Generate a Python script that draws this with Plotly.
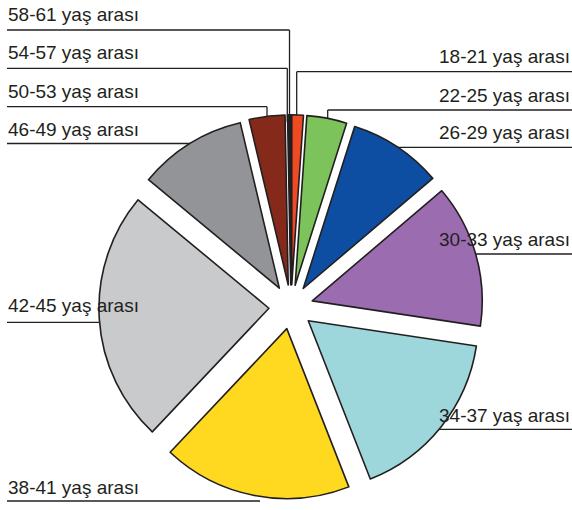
import plotly.graph_objects as go

# ---- data ----
labels = ["18-21 yaş arası", "22-25 yaş arası", "26-29 yaş arası", "30-33 yaş arası",
          "34-37 yaş arası", "38-41 yaş arası", "42-45 yaş arası", "46-49 yaş arası",
          "50-53 yaş arası", "54-57 yaş arası", "58-61 yaş arası"]
values = [1.1, 3.8, 8.9, 13.6, 16.7, 18.0, 24.0, 10.3, 3.4, 0.2, 0.1]
colors = ["#EF4A24", "#7DC35B", "#0D4EA2", "#9B6DB0", "#9DD7DB", "#FFD920",
          "#C9CACC", "#929497", "#85291A", "#2a2628", "#a08a2a"]

# ---- layout (pixel geometry for label callouts) ----
W, H = 572, 510
INK = "#231f20"

def px(x):
    return x / W

def py(y):
    return 1 - y / H

# label text anchor: (x, y_center, side)
label_pos = {
    "58-61 yaş arası": (7, 14.5, "left"),
    "54-57 yaş arası": (7, 53, "left"),
    "50-53 yaş arası": (7, 91.5, "left"),
    "46-49 yaş arası": (7, 129.5, "left"),
    "42-45 yaş arası": (7, 305.5, "left"),
    "38-41 yaş arası": (7, 487.5, "left"),
    "18-21 yaş arası": (571, 56.5, "right"),
    "22-25 yaş arası": (571, 95.5, "right"),
    "26-29 yaş arası": (571, 132.5, "right"),
    "30-33 yaş arası": (571, 239, "right"),
    "34-37 yaş arası": (571, 415.5, "right"),
}
# leader polylines in pixels
leaders = [
    [(7, 30), (289.5, 30), (289.5, 122)],
    [(7, 68.3), (287.3, 68.3), (287.3, 122)],
    [(7, 106.7), (267, 106.7), (267, 125)],
    [(7, 143.5), (200, 143.5)],
    [(7, 322.3), (105, 322.3)],
    [(7, 501), (260, 501)],
    [(572, 71.7), (296.7, 71.7), (296.7, 122)],
    [(572, 110), (327.7, 110), (327.7, 125)],
    [(572, 147.3), (395, 147.3)],
    [(572, 254), (470, 254)],
    [(572, 429.3), (435, 429.3)],
]

fig = go.Figure(go.Pie(
    labels=labels,
    values=values,
    sort=False,
    direction="clockwise",
    rotation=0,
    pull=[0.13] * len(values),
    marker=dict(colors=colors, line=dict(color=INK, width=1.6)),
    textinfo="none",
    hoverinfo="label",
    domain=dict(x=[px(97.8), px(484.2)], y=[py(499), py(114.8)]),
))

shapes = []
for pts in leaders:
    for (x0, y0), (x1, y1) in zip(pts[:-1], pts[1:]):
        shapes.append(dict(type="line", xref="paper", yref="paper",
                           x0=px(x0), y0=py(y0), x1=px(x1), y1=py(y1),
                           line=dict(color=INK, width=1.3), layer="below"))

annotations = []
for lab in labels:
    x, y, side = label_pos[lab]
    annotations.append(dict(text=lab, xref="paper", yref="paper",
                            x=px(x), y=py(y), xanchor=side, yanchor="middle",
                            showarrow=False, borderpad=0,
                            font=dict(family="Liberation Sans, Arial", size=19, color=INK)))

fig.update_layout(
    width=W, height=H,
    margin=dict(l=0, r=0, t=0, b=0),
    paper_bgcolor="white",
    plot_bgcolor="white",
    showlegend=False,
    shapes=shapes,
    annotations=annotations,
)

fig.write_html("out.html", config={"displayModeBar": False},
               post_script="document.body.style.margin='0';document.body.style.overflow='hidden';")
